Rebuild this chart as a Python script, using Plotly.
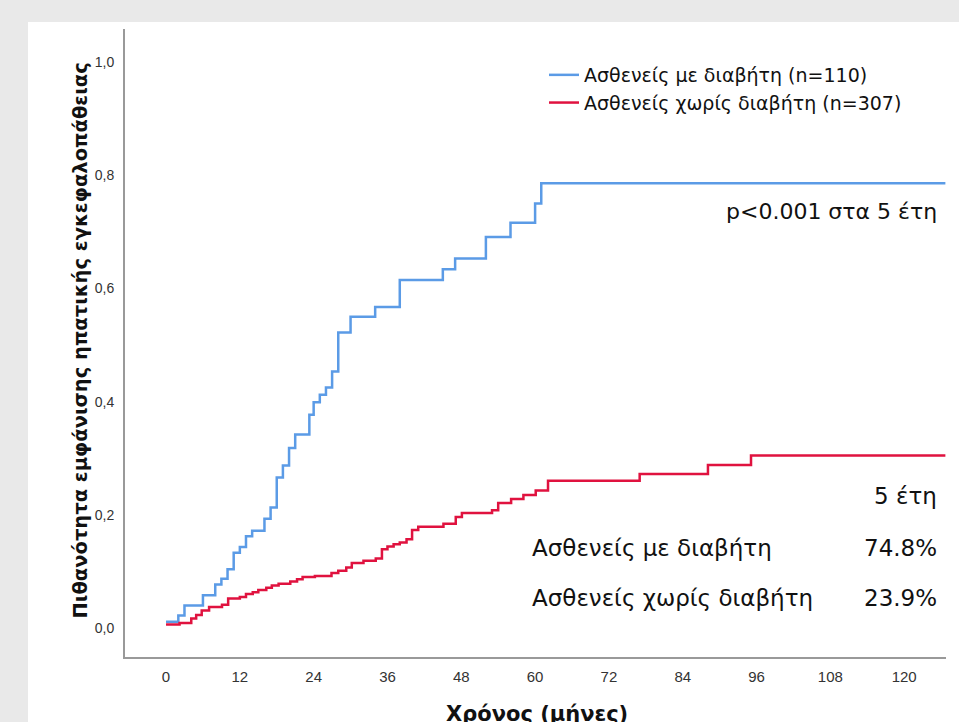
import plotly.graph_objects as go

# ---- data ----
months_diab = [0, 2, 3, 6, 8, 9, 10, 11, 12, 13, 14, 16, 17, 18, 19, 20, 21, 23.3, 24, 25, 26, 27,
               28, 30, 34, 38, 45, 47, 52, 56, 60, 61, 126.7]
prob_diab = [0.011, 0.022, 0.040, 0.058, 0.077, 0.087, 0.104, 0.133, 0.143, 0.162, 0.172, 0.193,
             0.213, 0.266, 0.287, 0.318, 0.342, 0.377, 0.399, 0.412, 0.425, 0.453, 0.522, 0.550,
             0.567, 0.615, 0.634, 0.653, 0.691, 0.716, 0.750, 0.786, 0.786]

months_nodiab = [0, 2.2, 4.1, 4.9, 5.8, 7.0, 9.1, 10.1, 12, 13, 14.1, 15, 16.3, 17.2, 18.3, 20.2,
                 21.3, 22.2, 24.2, 26.9, 28, 29.3, 30.2, 32.1, 34.1, 35.1, 36, 37, 38, 39.1, 40,
                 41, 45.1, 47.1, 48.1, 53, 54, 56.1, 58.1, 60.1, 62.1, 77, 88.1, 95.1, 126.7]
prob_nodiab = [0.006, 0.009, 0.017, 0.023, 0.031, 0.037, 0.041, 0.052, 0.055, 0.060, 0.063, 0.067,
               0.071, 0.075, 0.078, 0.082, 0.086, 0.090, 0.092, 0.097, 0.101, 0.107, 0.115, 0.119,
               0.123, 0.139, 0.144, 0.148, 0.151, 0.157, 0.173, 0.179, 0.184, 0.196, 0.203, 0.208,
               0.221, 0.228, 0.235, 0.243, 0.260, 0.272, 0.288, 0.305, 0.305]

series_names = ["Ασθενείς με διαβήτη (n=110)", "Ασθενείς χωρίς διαβήτη (n=307)"]
x_ticks = [0, 12, 24, 36, 48, 60, 72, 84, 96, 108, 120]
y_ticks = [0.0, 0.2, 0.4, 0.6, 0.8, 1.0]
y_ticklabels = ["0,0", "0,2", "0,4", "0,6", "0,8", "1,0"]
five_year = {"Ασθενείς με διαβήτη": "74.8%", "Ασθενείς χωρίς διαβήτη": "23.9%"}

BLUE = "#5b9be6"
RED = "#e0123f"
FONT = "DejaVu Sans"
TXT = "#111"

fig = go.Figure()
fig.add_trace(go.Scatter(x=months_diab, y=prob_diab, mode="lines", line_shape="hv",
                         line=dict(color=BLUE, width=2.5), name=series_names[0]))
fig.add_trace(go.Scatter(x=months_nodiab, y=prob_nodiab, mode="lines", line_shape="hv",
                         line=dict(color=RED, width=2.5), name=series_names[1]))

W, H = 959, 722
L, R, T, B = 125, 13, 29, 65
pw, ph = W - L - R, H - T - B


def px(xp):
    return (xp - L) / pw


def py(yp):
    return (H - B - yp) / ph


fig.update_layout(
    width=W, height=H,
    margin=dict(l=L, r=R, t=T, b=B, pad=0),
    paper_bgcolor="#e9e9e9",
    plot_bgcolor="white",
    showlegend=True,
    legend=dict(x=px(544), y=py(56), xanchor="left", yanchor="top",
                bgcolor="rgba(0,0,0,0)", font=dict(family=FONT, size=19, color=TXT),
                itemwidth=30, tracegroupgap=0),
    xaxis=dict(range=[-6.67, 126.8], tickvals=x_ticks, ticktext=[str(v) for v in x_ticks],
               showgrid=False, zeroline=False, showline=True, linecolor="#999", linewidth=2,
               ticks="", tickfont=dict(family="Liberation Sans", size=15, color="#333"),
               ticklabelstandoff=5),
    yaxis=dict(range=[-0.0512, 1.0583], tickvals=y_ticks, ticktext=y_ticklabels,
               showgrid=False, zeroline=False, showline=True, linecolor="#999", linewidth=2,
               ticks="", tickfont=dict(family="Liberation Sans", size=14, color="#333"),
               ticklabelstandoff=6),
    shapes=[dict(type="rect", xref="paper", yref="paper", x0=px(28), x1=1.2, y0=-0.3, y1=py(22),
                 fillcolor="white", line=dict(width=0), layer="below")],
)

ann = []
ann.append(dict(text="Πιθανότητα εμφάνισης ηπατικής εγκεφαλοπάθειας", textangle=-90,
                xref="paper", yref="paper", x=px(66), y=py(341), showarrow=False,
                font=dict(family=FONT, size=19.5, color=TXT, weight="bold")))
ann.append(dict(text="Χρόνος (μήνες)", xref="paper", yref="paper", x=px(537), y=py(700),
                xanchor="center", yanchor="top", showarrow=False,
                font=dict(family=FONT, size=21, color=TXT, weight="bold")))
ann.append(dict(text="p<0.001 στα 5 έτη", xref="paper", yref="paper", x=px(939), y=py(211),
                xanchor="right", yanchor="middle", showarrow=False,
                font=dict(family=FONT, size=22, color=TXT)))
ann.append(dict(text="5 έτη", xref="paper", yref="paper", x=px(939), y=py(496),
                xanchor="right", yanchor="middle", showarrow=False,
                font=dict(family=FONT, size=23, color=TXT)))
for (label, val), yp in zip(five_year.items(), [548, 598]):
    ann.append(dict(text=label, xref="paper", yref="paper", x=px(530), y=py(yp),
                    xanchor="left", yanchor="middle", showarrow=False,
                    font=dict(family=FONT, size=23, color=TXT)))
    ann.append(dict(text=val, xref="paper", yref="paper", x=px(939), y=py(yp),
                    xanchor="right", yanchor="middle", showarrow=False,
                    font=dict(family=FONT, size=23, color=TXT)))
fig.update_layout(annotations=ann)

fig.write_html("out.html")
